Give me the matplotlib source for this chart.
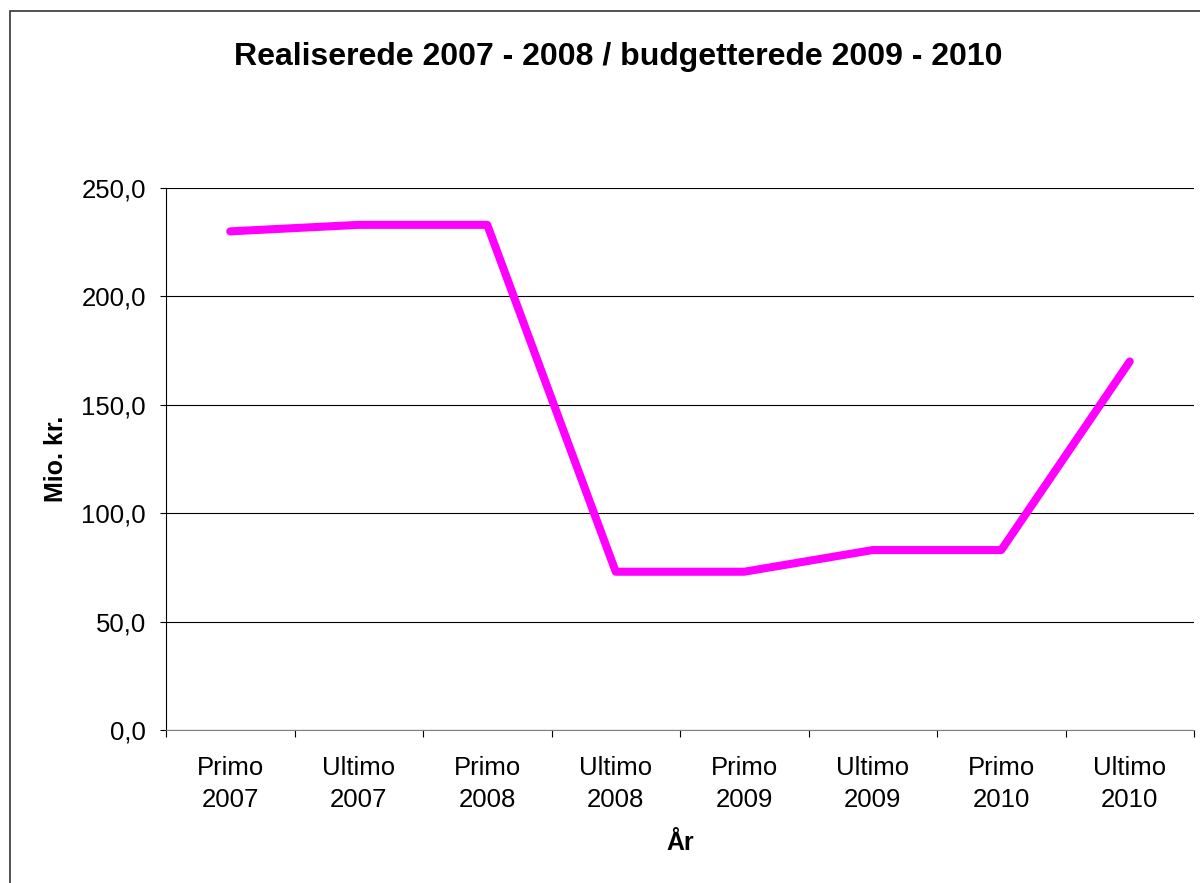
import matplotlib.pyplot as plt
from matplotlib.patches import Rectangle

plt.rcParams['font.family'] = ['Liberation Sans', 'DejaVu Sans']

categories = ['Primo\n2007', 'Ultimo\n2007', 'Primo\n2008', 'Ultimo\n2008',
              'Primo\n2009', 'Ultimo\n2009', 'Primo\n2010', 'Ultimo\n2010']
values = [230.0, 233.0, 233.0, 73.0, 73.0, 83.0, 83.0, 170.0]
yticks = [0, 50, 100, 150, 200, 250]

fig = plt.figure(figsize=(12, 8.83), dpi=100)
ax = fig.add_axes([166/1200, 1 - 730/883, (1194-166)/1200, (730-188)/883])

# outer chart frame (right/bottom run off the picture)
fig.patches.append(Rectangle((10/1200, -0.1), 1.2, 1 - 11/883 + 0.1,
                             transform=fig.transFigure, fill=False,
                             edgecolor='#333333', linewidth=1.2))

x = range(len(values))
ax.plot(x, values, color='#ff00ff', linewidth=5.8, solid_capstyle='round',
        solid_joinstyle='round', zorder=3)

ax.set_xlim(-0.5, len(values) - 0.5)
ax.set_ylim(0, 250)
ax.set_yticks(yticks)
ax.set_yticklabels([('%.1f' % v).replace('.', ',') for v in yticks])
ax.yaxis.grid(True, color='#000000', linewidth=0.8)
ax.set_axisbelow(True)

ax.set_xticks([i + 0.5 for i in range(-1, len(values))])
ax.set_xticklabels([])
ax.set_xticks(list(x), minor=True)
ax.set_xticklabels(categories, minor=True, fontsize=18.5, linespacing=1.4)
ax.tick_params(axis='x', which='minor', length=0, pad=19)
ax.tick_params(axis='x', which='major', length=5, color='#000000')
ax.tick_params(axis='y', length=4.5, labelsize=18.5, pad=10)

ax.spines['right'].set_visible(False)
ax.spines['top'].set_visible(False)
ax.spines['left'].set_color('#000000')
ax.spines['bottom'].set_color('#808080')

ax.set_ylabel('Mio. kr.', fontsize=18, fontweight='bold')
ax.yaxis.set_label_coords(-98/1028, 0.5)
ax.set_xlabel('År', fontsize=18, fontweight='bold')
ax.xaxis.set_label_coords(0.5, -(831-730)/542)
fig.text(0.515, 1 - 57/883, 'Realiserede 2007 - 2008 / budgetterede 2009 - 2010',
         ha='center', va='center', fontsize=23, fontweight='bold')

fig.savefig('out.png', dpi=100)
